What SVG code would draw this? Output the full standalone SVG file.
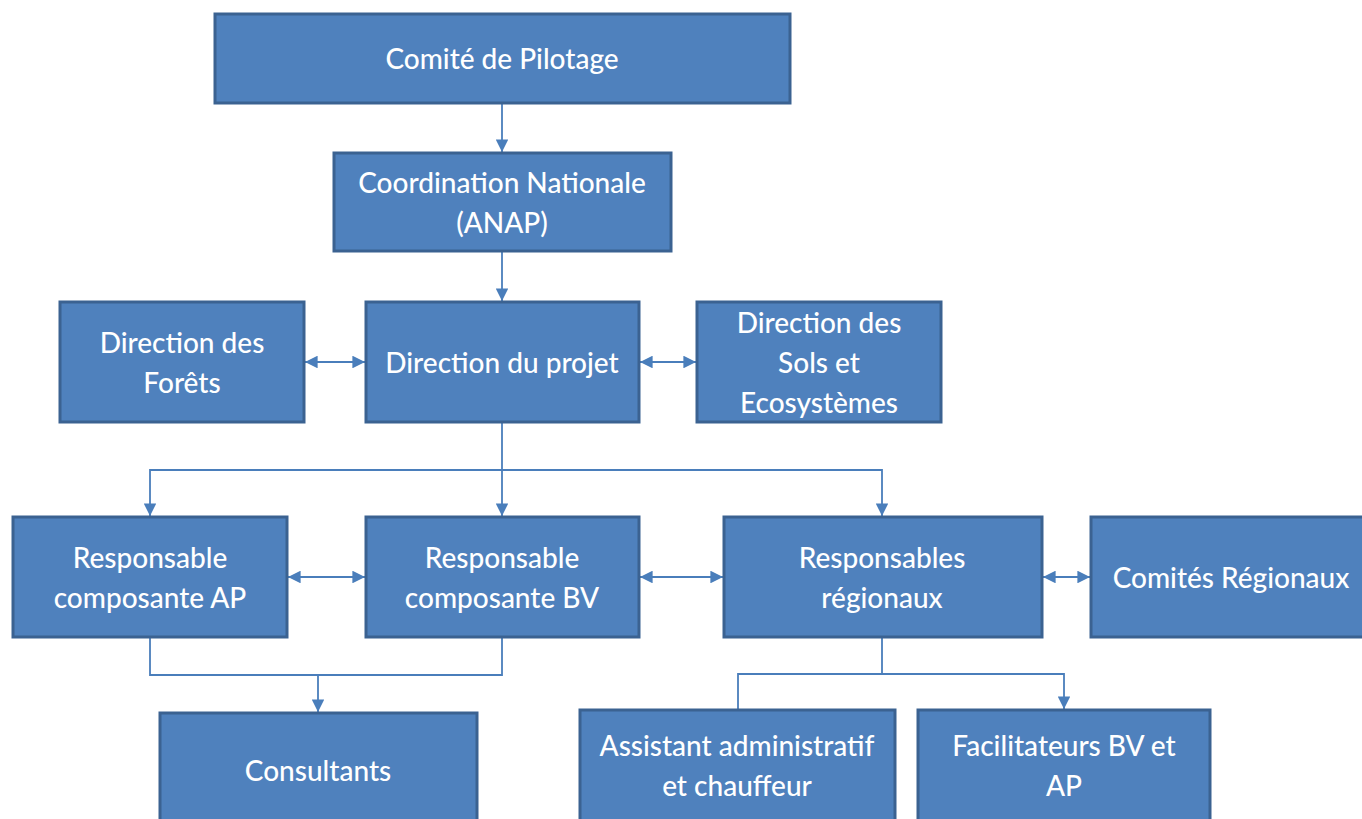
<svg xmlns="http://www.w3.org/2000/svg" width="1362" height="819" viewBox="0 0 1362 819">
  <style>
    .box { fill: #4f81bd; stroke: #3b6291; stroke-width: 3; }
    .lbl { fill: #ffffff; font-family: Lato, "Open Sans", "Liberation Sans", sans-serif; font-size: 28px; font-weight: 500; text-anchor: middle; }
    .wire { fill: none; stroke: #4a7ebb; stroke-width: 1.8; }
  </style>
  <defs>
    <marker id="arr" viewBox="0 0 10 10" refX="10" refY="5" markerWidth="7" markerHeight="7" markerUnits="strokeWidth" orient="auto-start-reverse">
      <path d="M0,0 L10,5 L0,10 z" fill="#4a7ebb"/>
    </marker>
  </defs>
  <rect width="1362" height="819" fill="#ffffff"/>

  <g id="connectors">
    <line class="wire" x1="502" y1="104" x2="502" y2="152" marker-end="url(#arr)"/>
    <line class="wire" x1="502" y1="252" x2="502" y2="301" marker-end="url(#arr)"/>
    <line class="wire" x1="305" y1="362" x2="365" y2="362" marker-start="url(#arr)" marker-end="url(#arr)"/>
    <line class="wire" x1="640" y1="362" x2="696" y2="362" marker-start="url(#arr)" marker-end="url(#arr)"/>
    <line class="wire" x1="502" y1="423" x2="502" y2="516" marker-end="url(#arr)"/>
    <polyline class="wire" points="502,470 150,470 150,516" marker-end="url(#arr)"/>
    <polyline class="wire" points="502,470 882,470 882,516" marker-end="url(#arr)"/>
    <line class="wire" x1="288" y1="577" x2="365" y2="577" marker-start="url(#arr)" marker-end="url(#arr)"/>
    <line class="wire" x1="640" y1="577" x2="723" y2="577" marker-start="url(#arr)" marker-end="url(#arr)"/>
    <line class="wire" x1="1043" y1="577" x2="1090" y2="577" marker-start="url(#arr)" marker-end="url(#arr)"/>
    <polyline class="wire" points="150,638 150,675 502,675 502,638"/>
    <line class="wire" x1="318" y1="675" x2="318" y2="712" marker-end="url(#arr)"/>
    <polyline class="wire" points="882,638 882,674 738,674 738,710"/>
    <polyline class="wire" points="882,674 1064,674 1064,709" marker-end="url(#arr)"/>
  </g>

  <g id="comite-pilotage">
    <rect class="box" x="215" y="14" width="575" height="89"/>
    <text class="lbl" x="502" y="69">Comité de Pilotage</text>
  </g>
  <g id="coordination-nationale">
    <rect class="box" x="334" y="153" width="337" height="98"/>
    <text class="lbl" x="502" y="193">Coordination Nationale</text>
    <text class="lbl" x="502" y="233">(ANAP)</text>
  </g>
  <g id="direction-forets">
    <rect class="box" x="60" y="302" width="244" height="120"/>
    <text class="lbl" x="182" y="353">Direction des</text>
    <text class="lbl" x="182" y="393">Forêts</text>
  </g>
  <g id="direction-projet">
    <rect class="box" x="366" y="302" width="273" height="120"/>
    <text class="lbl" x="502" y="373">Direction du projet</text>
  </g>
  <g id="direction-sols">
    <rect class="box" x="697" y="302" width="244" height="120"/>
    <text class="lbl" x="819" y="333">Direction des</text>
    <text class="lbl" x="819" y="373">Sols et</text>
    <text class="lbl" x="819" y="413">Ecosystèmes</text>
  </g>
  <g id="responsable-ap">
    <rect class="box" x="13" y="517" width="274" height="120"/>
    <text class="lbl" x="150" y="568">Responsable</text>
    <text class="lbl" x="150" y="608">composante AP</text>
  </g>
  <g id="responsable-bv">
    <rect class="box" x="366" y="517" width="273" height="120"/>
    <text class="lbl" x="502" y="568">Responsable</text>
    <text class="lbl" x="502" y="608">composante BV</text>
  </g>
  <g id="responsables-regionaux">
    <rect class="box" x="724" y="517" width="318" height="120"/>
    <text class="lbl" x="882" y="568">Responsables</text>
    <text class="lbl" x="882" y="608">régionaux</text>
  </g>
  <g id="comites-regionaux">
    <rect class="box" x="1091" y="517" width="280" height="120"/>
    <text class="lbl" x="1231" y="588">Comités Régionaux</text>
  </g>
  <g id="consultants">
    <rect class="box" x="160" y="713" width="317" height="120"/>
    <text class="lbl" x="318" y="781">Consultants</text>
  </g>
  <g id="assistant">
    <rect class="box" x="580" y="710" width="315" height="120"/>
    <text class="lbl" x="737" y="756">Assistant administratif</text>
    <text class="lbl" x="737" y="796">et chauffeur</text>
  </g>
  <g id="facilitateurs">
    <rect class="box" x="918" y="710" width="292" height="120"/>
    <text class="lbl" x="1064" y="756">Facilitateurs BV et</text>
    <text class="lbl" x="1064" y="796">AP</text>
  </g>
</svg>
